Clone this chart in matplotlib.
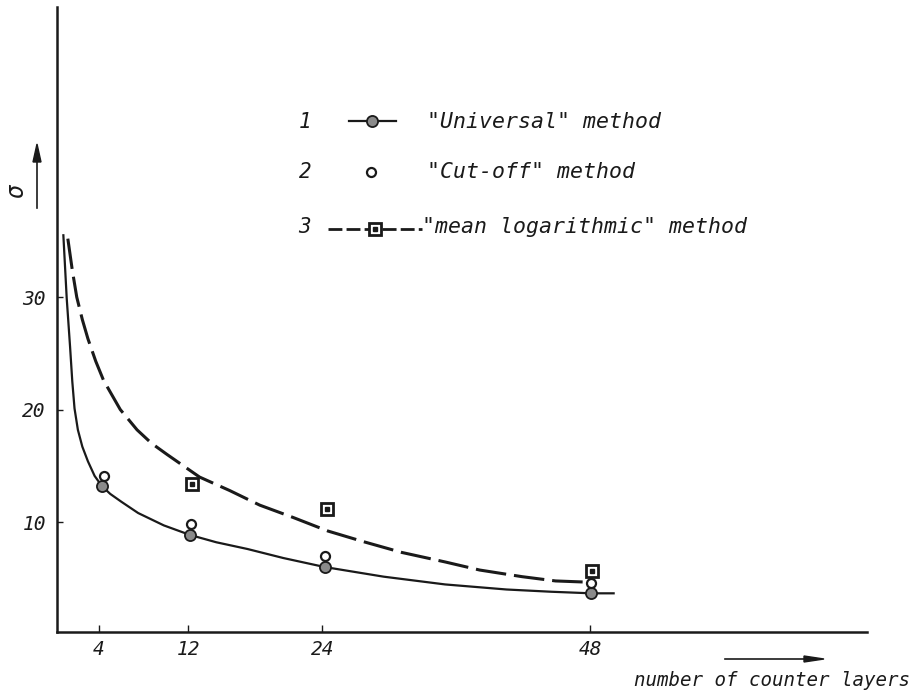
import numpy as np
import matplotlib.pyplot as plt

# tick values
x_ticks = [4, 12, 24, 48]
y_ticks = [10, 20, 30]

# measured points
layers = [4.25, 12.15, 24.2, 48.1]
universal = [13.2, 8.85, 6.0, 3.66]

cutoff_x = [4.45, 12.25, 24.25, 48.1]
cutoff = [14.1, 9.8, 7.0, 4.6]

meanlog_x = [12.3, 24.4, 48.2]
meanlog = [13.35, 11.2, 5.67]

# curves drawn through the points
uni_curve_x = [0.8, 1.1, 1.4, 1.6, 1.8, 2.1, 2.5, 3.0, 3.6, 4.25, 5.0, 6.0, 7.5,
               9.8, 12.15, 14.5, 17.3, 20.5, 24.2, 29.5, 35.0, 40.5, 44.5, 48.1, 50.1]
uni_curve_y = [35.5, 29.9, 25.6, 22.5, 20.1, 18.2, 16.7, 15.4, 14.1, 13.2, 12.5,
               11.8, 10.8, 9.7, 8.85, 8.2, 7.6, 6.8, 6.0, 5.14, 4.45, 4.0, 3.8,
               3.66, 3.66]

log_curve_x = [1.2, 1.6, 2.0, 2.5, 3.0, 3.7, 4.4, 5.9, 7.4, 8.7, 10.1, 13.0, 15.7,
               18.4, 21.4, 24.5, 27.7, 31.1, 35.0, 38.1, 41.9, 44.9, 48.1]
log_curve_y = [35.2, 32.4, 30.0, 28.0, 26.3, 24.3, 22.6, 20.0, 18.2, 17.0, 16.0,
               14.0, 12.8, 11.5, 10.4, 9.2, 8.25, 7.3, 6.45, 5.73, 5.14, 4.76, 4.64]

W, H = 913, 693
fig = plt.figure(figsize=(W / 100, H / 100), dpi=100)
ax = fig.add_axes([57 / W, 1 - 632 / H, (867 - 57) / W, (632 - 7) / H])

ink = '#1a1a1a'
txt = dict(style='italic', color=ink, family='DejaVu Sans Mono')

ax.plot(uni_curve_x, uni_curve_y, color=ink, lw=1.6, solid_joinstyle='round')
ax.plot(log_curve_x, log_curve_y, color=ink, lw=2.2, dashes=(10, 2.6),
        dash_joinstyle='round')

ax.plot(layers, universal, 'o', ms=8, mfc='#8a8a8a', mec=ink, mew=1.3, zorder=4)
ax.plot(cutoff_x, cutoff, 'o', ms=6.5, mfc='white', mec=ink, mew=1.6, zorder=4)
ax.plot(meanlog_x, meanlog, 's', ms=9, mfc='white', mec=ink, mew=2.0, zorder=4)
ax.plot(meanlog_x, meanlog, 's', ms=2.5, mfc=ink, mec=ink, zorder=5)

ax.set_xlim(0.23, 72.8)
ax.set_ylim(0.22, 55.8)

for s in ['top', 'right']:
    ax.spines[s].set_visible(False)
for s in ['left', 'bottom']:
    ax.spines[s].set_linewidth(1.8)
    ax.spines[s].set_color(ink)

ax.set_xticks(x_ticks)
ax.set_yticks(y_ticks)
ax.set_xticklabels([str(v) for v in x_ticks], fontsize=14, **txt)
ax.set_yticklabels([str(v) for v in y_ticks], fontsize=14, **txt)
ax.tick_params(axis='x', direction='in', length=5, width=1, pad=6, colors=ink)
ax.tick_params(axis='y', direction='in', length=4, width=1, pad=8, colors=ink)


def fx(px):
    return px / W


def fy(py):
    return 1 - py / H


# legend written inside the plot
rows = [
    ('1', '"Universal" method', 122, 427),
    ('2', '"Cut-off" method', 172, 427),
    ('3', '"mean logarithmic" method', 227, 422),
]
for num, label, py, xl in rows:
    fig.text(fx(305), fy(py), num, fontsize=15, ha='center', va='center', **txt)
    fig.text(fx(xl), fy(py), label, fontsize=15.5, ha='left', va='center', **txt)

# legend symbols
fig.add_artist(plt.Line2D([fx(349), fx(396)], [fy(121), fy(121)], color=ink, lw=1.6))
fig.add_artist(plt.Line2D([fx(372)], [fy(121)], marker='o', ms=8, mfc='#8a8a8a',
                          mec=ink, mew=1.3))
fig.add_artist(plt.Line2D([fx(371)], [fy(172)], marker='o', ms=6.5, mfc='white',
                          mec=ink, mew=1.6))
fig.add_artist(plt.Line2D([fx(328), fx(422)], [fy(229), fy(229)], color=ink, lw=2.0,
                          dashes=(5, 1.5)))
fig.add_artist(plt.Line2D([fx(375)], [fy(229)], marker='s', ms=9, mfc='white',
                          mec=ink, mew=2.0))
fig.add_artist(plt.Line2D([fx(375)], [fy(229)], marker='s', ms=2.5, mfc=ink, mec=ink))

# axis labels with arrows
fig.text(fx(16), fy(191), 'σ', fontsize=17, rotation=90, ha='center', va='center', **txt)
fig.add_artist(plt.Line2D([fx(37), fx(37)], [fy(208), fy(160)], color=ink, lw=1.2))
fig.patches.append(plt.Polygon([[fx(33), fy(162)], [fx(41), fy(162)], [fx(37), fy(144)]],
                               closed=True, color=ink, transform=fig.transFigure))

fig.text(fx(910), fy(680), 'number of counter layers', fontsize=13.8,
         ha='right', va='center', **txt)
fig.add_artist(plt.Line2D([fx(725), fx(806)], [fy(659), fy(659)], color=ink, lw=1.2))
fig.patches.append(plt.Polygon([[fx(804), fy(656)], [fx(804), fy(662)], [fx(824), fy(659)]],
                               closed=True, color=ink, transform=fig.transFigure))

fig.savefig('out.png', dpi=100)
